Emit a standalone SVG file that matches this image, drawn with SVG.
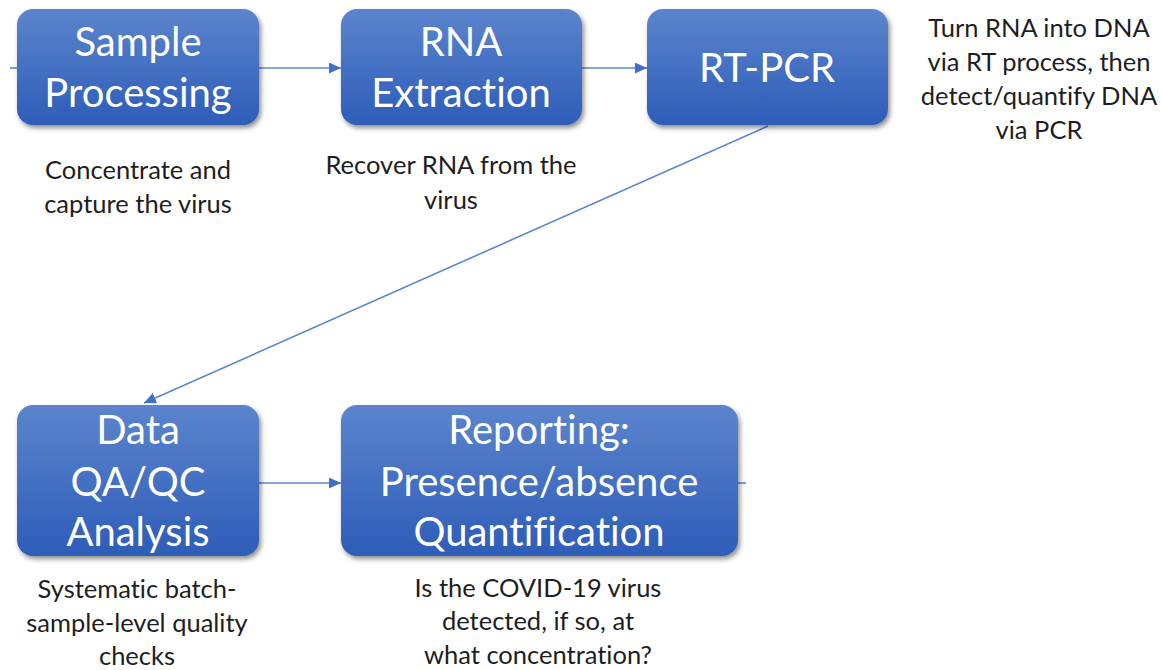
<svg xmlns="http://www.w3.org/2000/svg" width="1161" height="670" viewBox="0 0 1161 670">
  <style>
    text { font-variant-ligatures: none; }
    .box { fill: url(#boxGrad); filter: url(#shadow); }
    .label { font-family: Lato, "Open Sans", "Liberation Sans", sans-serif; font-size: 40px; fill: #ffffff; text-anchor: middle; }
    .note { font-family: Lato, "Open Sans", "Liberation Sans", sans-serif; font-size: 25.5px; fill: #1e1e1e; text-anchor: middle; }
    .link { stroke: #5b87d2; stroke-width: 1.6; fill: none; marker-end: url(#arrow); }
    .stub { stroke: #5b87d2; stroke-width: 1.6; fill: none; }
  </style>
  <defs>
    <linearGradient id="boxGrad" x1="0" y1="0" x2="0" y2="1">
      <stop offset="0" stop-color="#5c84cd"/>
      <stop offset="1" stop-color="#2d5db8"/>
    </linearGradient>
    <filter id="shadow" x="-10%" y="-10%" width="125%" height="130%">
      <feDropShadow dx="2" dy="3" stdDeviation="2.5" flood-color="#000000" flood-opacity="0.45"/>
    </filter>
    <marker id="arrow" viewBox="0 0 10 10" refX="10" refY="5" markerWidth="12" markerHeight="11" markerUnits="userSpaceOnUse" orient="auto" preserveAspectRatio="none">
      <path d="M0,0 L10,5 L0,10 z" fill="#3f6fc6"/>
    </marker>
  </defs>
  <rect width="1161" height="670" fill="#ffffff"/>

  <!-- connectors -->
  <g id="connectors">
    <line class="stub" x1="10" y1="68" x2="17" y2="68"/>
    <line class="link" x1="259" y1="68" x2="341" y2="68"/>
    <line class="link" x1="582" y1="68" x2="647" y2="68"/>
    <line class="link" x1="768" y1="126" x2="144" y2="403"/>
    <line class="link" x1="259" y1="483" x2="341" y2="483"/>
    <line class="stub" x1="738" y1="483" x2="746" y2="483"/>
  </g>

  <g id="sample-processing">
    <rect class="box" x="17" y="9" width="242" height="116" rx="16"/>
    <text class="label" x="138" y="56">Sample</text>
    <text class="label" x="138" y="107">Processing</text>
    <text class="note" x="138" y="179">Concentrate and</text>
    <text class="note" x="138" y="213">capture the virus</text>
  </g>

  <g id="rna-extraction">
    <rect class="box" x="341" y="9" width="241" height="116" rx="16"/>
    <text class="label" x="461" y="56">RNA</text>
    <text class="label" x="461" y="107">Extraction</text>
    <text class="note" x="451" y="174">Recover RNA from the</text>
    <text class="note" x="451" y="209">virus</text>
  </g>

  <g id="rt-pcr">
    <rect class="box" x="647" y="9" width="241" height="116" rx="16"/>
    <text class="label" x="767" y="82">RT-PCR</text>
    <text class="note" x="1039" y="37">Turn RNA into DNA</text>
    <text class="note" x="1039" y="71">via RT process, then</text>
    <text class="note" x="1039" y="105">detect/quantify DNA</text>
    <text class="note" x="1039" y="139">via PCR</text>
  </g>

  <g id="data-qa-qc">
    <rect class="box" x="17" y="405" width="242" height="151" rx="16"/>
    <text class="label" x="138" y="444">Data</text>
    <text class="label" x="138" y="496">QA/QC</text>
    <text class="label" x="138" y="546">Analysis</text>
    <text class="note" x="137" y="598">Systematic batch-</text>
    <text class="note" x="137" y="632">sample-level quality</text>
    <text class="note" x="137" y="665">checks</text>
  </g>

  <g id="reporting">
    <rect class="box" x="341" y="405" width="397" height="151" rx="16"/>
    <text class="label" x="539" y="444">Reporting:</text>
    <text class="label" x="539" y="496">Presence/absence</text>
    <text class="label" x="539" y="546">Quantification</text>
    <text class="note" x="538" y="597">Is the COVID-19 virus</text>
    <text class="note" x="538" y="630">detected, if so, at</text>
    <text class="note" x="538" y="664">what concentration?</text>
  </g>
</svg>
